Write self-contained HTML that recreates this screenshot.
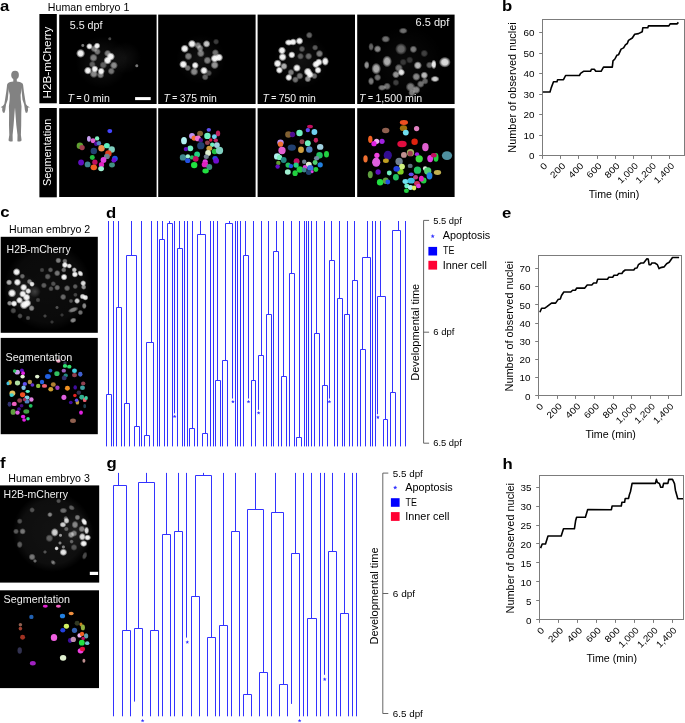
<!DOCTYPE html>
<html><head><meta charset="utf-8"><title>Figure</title>
<style>
html,body{margin:0;padding:0;background:#fff;}
body{width:685px;height:723px;overflow:hidden;}
svg{display:block;font-family:"Liberation Sans", sans-serif;will-change:transform;}
</style></head><body>
<svg width="685" height="723" viewBox="0 0 685 723">
<defs>
<filter id="bsm" x="-20%" y="-20%" width="140%" height="140%"><feGaussianBlur stdDeviation="0.72"/></filter>
<radialGradient id="soft"><stop offset="0" stop-color="#fff"/><stop offset="0.5" stop-color="#fff" stop-opacity="0.95"/><stop offset="0.78" stop-color="#fff" stop-opacity="0.45"/><stop offset="1" stop-color="#fff" stop-opacity="0"/></radialGradient>
<radialGradient id="discg"><stop offset="0" stop-color="#fff" stop-opacity="1"/><stop offset="0.8" stop-color="#fff" stop-opacity="0.8"/><stop offset="1" stop-color="#fff" stop-opacity="0"/></radialGradient>
<radialGradient id="rg"><stop offset="0" stop-color="#fff" stop-opacity="0.35"/><stop offset="0.6" stop-color="#fff" stop-opacity="0.15"/><stop offset="1" stop-color="#fff" stop-opacity="0"/></radialGradient>
<filter id="bbig" x="-50%" y="-50%" width="200%" height="200%"><feGaussianBlur stdDeviation="6"/></filter>
<filter id="bsm2" x="-20%" y="-20%" width="140%" height="140%"><feGaussianBlur stdDeviation="0.5"/></filter>
<filter id="bseg" x="-20%" y="-20%" width="140%" height="140%"><feGaussianBlur stdDeviation="0.3"/></filter>
</defs>
<rect width="685" height="723" fill="#fff"/>
<text transform="translate(-0.1,11) scale(1.1,1)" font-size="15.2" font-weight="bold">a</text>
<text transform="translate(502.0,11) scale(1.1,1)" font-size="15.2" font-weight="bold">b</text>
<text transform="translate(0.2,217.2) scale(1.1,1)" font-size="15.2" font-weight="bold">c</text>
<text transform="translate(106.0,217.6) scale(1.1,1)" font-size="15.2" font-weight="bold">d</text>
<text transform="translate(502.0,217.8) scale(1.1,1)" font-size="15.2" font-weight="bold">e</text>
<text transform="translate(0.1,468) scale(1.1,1)" font-size="15.2" font-weight="bold">f</text>
<text transform="translate(106.4,468.2) scale(1.1,1)" font-size="15.2" font-weight="bold">g</text>
<text transform="translate(502.5,469) scale(1.1,1)" font-size="15.2" font-weight="bold">h</text>
<g fill="#828282"><ellipse cx="15.05" cy="75.0" rx="3.85" ry="4.25"/><path d="M13.3 78.5 L13.3 81.4 C11 81.7 9 81.9 8.2 83 C7.4 84 7.5 86 8.2 88 L9.8 95 L9.6 100 L8.9 106.5 L9.1 113 L9.0 125 L9.3 135 L8.5 140.3 C8.8 141.6 11.2 141.8 12.7 141.3 L12.6 135 L13.6 125 L14.5 113 L15.0 107.6 L15.4 113 L16.3 125 L17.5 135 L17.4 141.3 C18.9 141.8 21.3 141.6 21.6 140.3 L20.9 135 L21.2 125 L21.3 113 L21.5 106.5 L20.8 100 L20.6 95 L21.8 88 C22.5 86 22.6 84 21.8 83 C21 81.9 19 81.7 16.8 81.4 L16.8 78.5 Z"/><path d="M8.2 83 C7.2 83.8 7.0 85 6.9 86.5 L6.3 91.5 L5.6 96 L5.0 100 L4.3 104 L3.0 105.8 L1.0 107.0 L0.9 107.6 L2.3 107.5 L2.2 110.5 L3.0 112.8 L4.5 112.8 L5.3 110 L5.6 107.4 L6.1 104.3 L7.7 99.7 L8.2 95 L8.8 89 L9.2 85 Z"/><path d="M22.0 83 C23.0 83.8 23.2 85 23.3 86.5 L23.9 91.5 L24.6 96 L25.2 100 L25.9 104 L27.2 105.8 L29.2 107.0 L29.9 107.6 L27.9 107.5 L28.0 110.5 L27.2 112.8 L25.7 112.8 L24.9 110 L24.6 107.4 L24.1 104.3 L22.5 99.7 L22.0 95 L21.4 89 L21.0 85 Z"/></g>
<text x="47.8" y="11.0" font-size="10.2" text-anchor="start" font-weight="normal" fill="#000" textLength="81.5" lengthAdjust="spacingAndGlyphs" >Human embryo 1</text>
<rect x="39.4" y="14" width="17.4" height="89.3" fill="#000"/>
<rect x="39.4" y="108" width="17.4" height="89.3" fill="#000"/>
<text transform="translate(51.4,62.6) rotate(-90)" font-size="10.4" fill="#fff" text-anchor="middle" textLength="72" lengthAdjust="spacingAndGlyphs">H2B-mCherry</text>
<text transform="translate(51.4,152.3) rotate(-90)" font-size="10.4" fill="#fff" text-anchor="middle" textLength="67.4" lengthAdjust="spacingAndGlyphs">Segmentation</text>
<clipPath id="c14"><rect x="59.2" y="14.6" width="97.4" height="89.4"/></clipPath>
<rect x="59.2" y="14.6" width="97.4" height="89.4" fill="#000"/>
<g clip-path="url(#c14)">
<circle cx="101.8" cy="62.2" r="26.3" fill="url(#rg)" opacity="0.22"/>
<circle cx="125.2" cy="57.8" r="16.1" fill="url(#rg)" opacity="0.16"/>
<g>
<ellipse cx="80.6" cy="53.4" rx="4.60" ry="4.60" fill="url(#soft)" opacity="0.97"/>
<ellipse cx="89.4" cy="46.4" rx="3.38" ry="3.38" fill="url(#soft)" opacity="0.97"/>
<ellipse cx="97.1" cy="45.8" rx="3.38" ry="3.38" fill="url(#soft)" opacity="0.97"/>
<ellipse cx="94.2" cy="48.7" rx="3.73" ry="3.73" fill="url(#soft)" opacity="0.48"/>
<ellipse cx="97.4" cy="51.7" rx="3.55" ry="3.55" fill="url(#soft)" opacity="0.44"/>
<ellipse cx="93.5" cy="57.8" rx="4.25" ry="4.25" fill="url(#soft)" opacity="0.48"/>
<ellipse cx="107.6" cy="53.4" rx="3.73" ry="3.73" fill="url(#soft)" opacity="0.48"/>
<ellipse cx="110.8" cy="56.6" rx="4.25" ry="4.25" fill="url(#soft)" opacity="0.97"/>
<ellipse cx="107.6" cy="60.4" rx="4.25" ry="4.25" fill="url(#soft)" opacity="0.97"/>
<ellipse cx="113.9" cy="65.4" rx="4.08" ry="4.08" fill="url(#soft)" opacity="0.53"/>
<ellipse cx="87.9" cy="70.6" rx="4.08" ry="4.08" fill="url(#soft)" opacity="0.97"/>
<ellipse cx="94.8" cy="69.0" rx="3.73" ry="3.73" fill="url(#soft)" opacity="0.97"/>
<ellipse cx="101.2" cy="71.2" rx="3.73" ry="3.73" fill="url(#soft)" opacity="0.97"/>
<ellipse cx="93.8" cy="73.9" rx="4.25" ry="4.25" fill="url(#soft)" opacity="0.53"/>
<ellipse cx="100.6" cy="75.0" rx="3.73" ry="3.73" fill="url(#soft)" opacity="0.48"/>
<ellipse cx="111.3" cy="71.2" rx="3.73" ry="3.73" fill="url(#soft)" opacity="0.44"/>
<ellipse cx="92.3" cy="64.4" rx="3.55" ry="3.55" fill="url(#soft)" opacity="0.34"/>
<ellipse cx="103.3" cy="65.1" rx="3.90" ry="3.90" fill="url(#soft)" opacity="0.34"/>
<ellipse cx="136.8" cy="65.8" rx="1.98" ry="1.98" fill="url(#soft)" opacity="0.48"/>
<ellipse cx="82.8" cy="45.4" rx="1.98" ry="1.98" fill="url(#soft)" opacity="0.48"/>
<ellipse cx="109.8" cy="38.8" rx="1.98" ry="1.98" fill="url(#soft)" opacity="0.29"/>
</g></g>
<clipPath id="c42"><rect x="158.2" y="14.6" width="97.4" height="89.4"/></clipPath>
<rect x="158.2" y="14.6" width="97.4" height="89.4" fill="#000"/>
<g clip-path="url(#c42)">
<circle cx="200.8" cy="59.3" r="24.8" fill="url(#rg)" opacity="0.19"/>
<g>
<ellipse cx="184.7" cy="48.7" rx="4.25" ry="4.25" fill="url(#soft)" opacity="0.97"/>
<ellipse cx="192.0" cy="43.9" rx="4.25" ry="4.25" fill="url(#soft)" opacity="0.97"/>
<ellipse cx="197.9" cy="45.4" rx="3.73" ry="3.73" fill="url(#soft)" opacity="0.48"/>
<ellipse cx="200.1" cy="48.3" rx="3.73" ry="3.73" fill="url(#soft)" opacity="0.48"/>
<ellipse cx="206.6" cy="43.9" rx="3.90" ry="3.90" fill="url(#soft)" opacity="0.78"/>
<ellipse cx="216.1" cy="41.7" rx="3.20" ry="3.20" fill="url(#soft)" opacity="0.24"/>
<ellipse cx="188.4" cy="56.3" rx="4.08" ry="4.08" fill="url(#soft)" opacity="0.48"/>
<ellipse cx="200.8" cy="53.4" rx="4.08" ry="4.08" fill="url(#soft)" opacity="0.48"/>
<ellipse cx="215.4" cy="52.7" rx="3.73" ry="3.73" fill="url(#soft)" opacity="0.44"/>
<ellipse cx="207.4" cy="60.4" rx="4.08" ry="4.08" fill="url(#soft)" opacity="0.48"/>
<ellipse cx="214.7" cy="58.5" rx="4.25" ry="4.25" fill="url(#soft)" opacity="0.97"/>
<ellipse cx="219.0" cy="57.5" rx="4.25" ry="4.25" fill="url(#soft)" opacity="0.97"/>
<ellipse cx="183.3" cy="64.4" rx="4.25" ry="4.25" fill="url(#soft)" opacity="0.97"/>
<ellipse cx="195.2" cy="65.4" rx="3.73" ry="3.73" fill="url(#soft)" opacity="0.97"/>
<ellipse cx="187.7" cy="68.0" rx="3.38" ry="3.38" fill="url(#soft)" opacity="0.44"/>
<ellipse cx="214.7" cy="65.1" rx="4.25" ry="4.25" fill="url(#soft)" opacity="0.58"/>
<ellipse cx="194.2" cy="71.7" rx="4.25" ry="4.25" fill="url(#soft)" opacity="0.53"/>
<ellipse cx="204.0" cy="70.6" rx="4.08" ry="4.08" fill="url(#soft)" opacity="0.97"/>
<ellipse cx="205.2" cy="77.1" rx="3.55" ry="3.55" fill="url(#soft)" opacity="0.39"/>
<ellipse cx="208.8" cy="73.1" rx="3.38" ry="3.38" fill="url(#soft)" opacity="0.29"/>
</g></g>
<clipPath id="c68"><rect x="257.6" y="14.6" width="97.4" height="89.4"/></clipPath>
<rect x="257.6" y="14.6" width="97.4" height="89.4" fill="#000"/>
<g clip-path="url(#c68)">
<circle cx="301.3" cy="60.7" r="27.7" fill="url(#rg)" opacity="0.19"/>
<g>
<ellipse cx="288.8" cy="42.5" rx="4.25" ry="3.38" fill="url(#soft)" opacity="0.97"/>
<ellipse cx="293.2" cy="42.0" rx="3.73" ry="3.73" fill="url(#soft)" opacity="0.97"/>
<ellipse cx="299.5" cy="41.0" rx="3.90" ry="3.90" fill="url(#soft)" opacity="0.97"/>
<ellipse cx="309.3" cy="35.2" rx="3.55" ry="3.55" fill="url(#soft)" opacity="0.39"/>
<ellipse cx="282.0" cy="50.5" rx="4.08" ry="4.08" fill="url(#soft)" opacity="0.97"/>
<ellipse cx="282.6" cy="57.1" rx="4.25" ry="4.25" fill="url(#soft)" opacity="0.97"/>
<ellipse cx="291.8" cy="54.9" rx="3.73" ry="3.73" fill="url(#soft)" opacity="0.97"/>
<ellipse cx="302.0" cy="49.0" rx="3.38" ry="3.38" fill="url(#soft)" opacity="0.34"/>
<ellipse cx="300.5" cy="56.3" rx="3.55" ry="3.55" fill="url(#soft)" opacity="0.34"/>
<ellipse cx="308.6" cy="56.3" rx="3.73" ry="3.73" fill="url(#soft)" opacity="0.39"/>
<ellipse cx="315.1" cy="47.6" rx="3.20" ry="3.20" fill="url(#soft)" opacity="0.34"/>
<ellipse cx="319.5" cy="53.7" rx="3.90" ry="3.90" fill="url(#soft)" opacity="0.48"/>
<ellipse cx="277.6" cy="63.6" rx="4.25" ry="4.25" fill="url(#soft)" opacity="0.97"/>
<ellipse cx="284.0" cy="66.3" rx="3.73" ry="3.73" fill="url(#soft)" opacity="0.68"/>
<ellipse cx="279.4" cy="70.2" rx="3.73" ry="3.73" fill="url(#soft)" opacity="0.97"/>
<ellipse cx="296.9" cy="68.0" rx="4.08" ry="4.08" fill="url(#soft)" opacity="0.97"/>
<ellipse cx="291.0" cy="72.4" rx="3.55" ry="3.55" fill="url(#soft)" opacity="0.48"/>
<ellipse cx="288.8" cy="77.5" rx="3.73" ry="3.73" fill="url(#soft)" opacity="0.97"/>
<ellipse cx="295.4" cy="79.7" rx="3.55" ry="3.55" fill="url(#soft)" opacity="0.44"/>
<ellipse cx="299.8" cy="76.0" rx="3.73" ry="3.73" fill="url(#soft)" opacity="0.44"/>
<ellipse cx="307.8" cy="71.7" rx="4.25" ry="4.25" fill="url(#soft)" opacity="0.97"/>
<ellipse cx="310.0" cy="74.6" rx="3.90" ry="3.90" fill="url(#soft)" opacity="0.97"/>
<ellipse cx="315.9" cy="64.4" rx="3.90" ry="3.90" fill="url(#soft)" opacity="0.97"/>
<ellipse cx="318.8" cy="62.2" rx="3.90" ry="3.90" fill="url(#soft)" opacity="0.97"/>
<ellipse cx="325.3" cy="61.4" rx="3.73" ry="4.60" fill="url(#soft)" opacity="0.97"/>
<ellipse cx="318.0" cy="70.2" rx="3.73" ry="3.73" fill="url(#soft)" opacity="0.97"/>
<ellipse cx="314.4" cy="76.0" rx="3.38" ry="3.38" fill="url(#soft)" opacity="0.44"/>
<ellipse cx="307.8" cy="79.0" rx="3.55" ry="3.55" fill="url(#soft)" opacity="0.58"/>
</g></g>
<clipPath id="c102"><rect x="357.2" y="14.6" width="97.4" height="89.4"/></clipPath>
<rect x="357.2" y="14.6" width="97.4" height="89.4" fill="#000"/>
<g clip-path="url(#c102)">
<circle cx="406.1" cy="63.6" r="38.0" fill="url(#rg)" opacity="0.11"/>
<g>
<ellipse cx="403.2" cy="30.8" rx="4.60" ry="3.20" fill="url(#soft)" opacity="0.44"/>
<ellipse cx="385.7" cy="39.1" rx="4.60" ry="3.73" fill="url(#soft)" opacity="0.44"/>
<ellipse cx="371.1" cy="46.8" rx="2.85" ry="4.25" fill="url(#soft)" opacity="0.39"/>
<ellipse cx="377.6" cy="49.0" rx="3.90" ry="3.90" fill="url(#soft)" opacity="0.53"/>
<ellipse cx="401.0" cy="49.0" rx="6.01" ry="6.01" fill="url(#soft)" opacity="0.39"/>
<ellipse cx="413.4" cy="49.3" rx="3.90" ry="3.90" fill="url(#soft)" opacity="0.48"/>
<ellipse cx="424.3" cy="53.4" rx="3.90" ry="3.90" fill="url(#soft)" opacity="0.24"/>
<ellipse cx="387.1" cy="61.4" rx="4.95" ry="6.01" fill="url(#soft)" opacity="0.68"/>
<ellipse cx="366.7" cy="65.1" rx="2.85" ry="4.25" fill="url(#soft)" opacity="0.58"/>
<ellipse cx="376.2" cy="68.7" rx="4.95" ry="6.01" fill="url(#soft)" opacity="0.68"/>
<ellipse cx="403.2" cy="62.2" rx="3.73" ry="3.73" fill="url(#soft)" opacity="0.19"/>
<ellipse cx="409.7" cy="60.0" rx="3.73" ry="3.73" fill="url(#soft)" opacity="0.19"/>
<ellipse cx="417.8" cy="65.4" rx="4.25" ry="4.25" fill="url(#soft)" opacity="0.73"/>
<ellipse cx="429.5" cy="65.1" rx="3.73" ry="3.73" fill="url(#soft)" opacity="0.39"/>
<ellipse cx="433.8" cy="64.4" rx="2.85" ry="4.95" fill="url(#soft)" opacity="0.92"/>
<ellipse cx="444.8" cy="62.2" rx="6.01" ry="5.48" fill="url(#soft)" opacity="0.87"/>
<ellipse cx="398.8" cy="68.0" rx="4.25" ry="4.25" fill="url(#soft)" opacity="0.44"/>
<ellipse cx="401.4" cy="72.4" rx="3.73" ry="3.73" fill="url(#soft)" opacity="0.92"/>
<ellipse cx="395.9" cy="74.6" rx="3.90" ry="3.90" fill="url(#soft)" opacity="0.58"/>
<ellipse cx="416.3" cy="76.8" rx="4.25" ry="4.25" fill="url(#soft)" opacity="0.53"/>
<ellipse cx="424.3" cy="75.3" rx="3.90" ry="3.90" fill="url(#soft)" opacity="0.73"/>
<ellipse cx="435.0" cy="79.0" rx="4.60" ry="3.20" fill="url(#soft)" opacity="0.82"/>
<ellipse cx="377.6" cy="77.5" rx="3.73" ry="3.73" fill="url(#soft)" opacity="0.44"/>
<ellipse cx="371.1" cy="81.2" rx="3.20" ry="4.25" fill="url(#soft)" opacity="0.48"/>
<ellipse cx="382.0" cy="87.7" rx="4.25" ry="3.20" fill="url(#soft)" opacity="0.48"/>
<ellipse cx="387.1" cy="86.3" rx="3.90" ry="3.90" fill="url(#soft)" opacity="0.44"/>
<ellipse cx="395.9" cy="82.6" rx="3.55" ry="3.55" fill="url(#soft)" opacity="0.24"/>
<ellipse cx="410.5" cy="87.0" rx="4.95" ry="4.95" fill="url(#soft)" opacity="0.48"/>
<ellipse cx="416.3" cy="89.9" rx="4.25" ry="4.25" fill="url(#soft)" opacity="0.53"/>
<ellipse cx="420.7" cy="84.1" rx="3.90" ry="3.90" fill="url(#soft)" opacity="0.44"/>
<ellipse cx="425.1" cy="81.2" rx="3.55" ry="3.55" fill="url(#soft)" opacity="0.39"/>
<ellipse cx="411.9" cy="92.8" rx="3.73" ry="3.73" fill="url(#soft)" opacity="0.48"/>
</g></g>
<rect x="59.2" y="108.2" width="97.4" height="88.8" fill="#000"/>
<g filter="url(#bseg)">
<ellipse cx="109.8" cy="131.1" rx="2.48" ry="2.04" fill="#4444ff"/>
<ellipse cx="88.9" cy="138.8" rx="1.90" ry="2.92" fill="#c8a0f0"/>
<ellipse cx="93.0" cy="140.7" rx="2.48" ry="2.48" fill="#e060d0"/>
<ellipse cx="97.1" cy="138.4" rx="2.19" ry="2.19" fill="#80f0c0"/>
<ellipse cx="96.2" cy="143.7" rx="2.19" ry="2.19" fill="#5010a0"/>
<ellipse cx="98.9" cy="143.2" rx="2.19" ry="2.19" fill="#5080c0"/>
<ellipse cx="79.9" cy="145.7" rx="3.21" ry="3.21" fill="#60a030"/>
<ellipse cx="82.1" cy="147.6" rx="2.63" ry="2.63" fill="#a04050"/>
<ellipse cx="101.5" cy="148.3" rx="3.21" ry="3.21" fill="#f09050"/>
<ellipse cx="106.9" cy="145.7" rx="2.92" ry="2.63" fill="#60f0c0"/>
<ellipse cx="111.7" cy="149.5" rx="3.21" ry="3.21" fill="#80d0c0"/>
<ellipse cx="93.8" cy="151.0" rx="3.21" ry="3.21" fill="#204070"/>
<ellipse cx="108.4" cy="153.4" rx="3.21" ry="3.21" fill="#e04020"/>
<ellipse cx="92.3" cy="157.4" rx="2.48" ry="2.48" fill="#20c040"/>
<ellipse cx="106.9" cy="156.4" rx="2.92" ry="2.63" fill="#708090"/>
<ellipse cx="103.5" cy="160.0" rx="2.92" ry="2.92" fill="#e040e0"/>
<ellipse cx="114.9" cy="158.6" rx="2.92" ry="2.92" fill="#2050e0"/>
<ellipse cx="113.9" cy="160.3" rx="2.48" ry="2.48" fill="#7010d0"/>
<ellipse cx="81.1" cy="162.5" rx="2.92" ry="2.92" fill="#6010c0"/>
<ellipse cx="87.6" cy="164.4" rx="2.92" ry="2.92" fill="#408890"/>
<ellipse cx="94.9" cy="162.2" rx="2.63" ry="2.63" fill="#c01060"/>
<ellipse cx="101.5" cy="164.7" rx="2.63" ry="2.63" fill="#e020c0"/>
<ellipse cx="93.8" cy="167.3" rx="3.21" ry="2.92" fill="#f06020"/>
<ellipse cx="101.1" cy="168.8" rx="2.92" ry="2.48" fill="#a0f0d0"/>
<ellipse cx="112.0" cy="165.1" rx="2.92" ry="2.48" fill="#409080"/>
</g>
<rect x="158.2" y="108.2" width="97.4" height="88.8" fill="#000"/>
<g filter="url(#bseg)">
<ellipse cx="208.8" cy="129.8" rx="2.19" ry="1.90" fill="#6050f0"/>
<ellipse cx="200.1" cy="133.4" rx="2.92" ry="2.63" fill="#806030"/>
<ellipse cx="218.0" cy="133.4" rx="2.19" ry="2.92" fill="#c02060"/>
<ellipse cx="192.0" cy="135.9" rx="2.92" ry="2.92" fill="#c090f0"/>
<ellipse cx="194.2" cy="138.1" rx="2.63" ry="2.63" fill="#f07030"/>
<ellipse cx="197.9" cy="138.4" rx="2.92" ry="2.92" fill="#f070d0"/>
<ellipse cx="200.8" cy="140.3" rx="2.19" ry="2.19" fill="#501090"/>
<ellipse cx="207.4" cy="135.9" rx="3.21" ry="3.21" fill="#70f0c0"/>
<ellipse cx="214.4" cy="136.7" rx="2.48" ry="2.48" fill="#70d0f0"/>
<ellipse cx="210.7" cy="139.9" rx="1.75" ry="1.75" fill="#e01040"/>
<ellipse cx="215.8" cy="140.3" rx="2.19" ry="1.90" fill="#c02060"/>
<ellipse cx="184.0" cy="140.7" rx="2.92" ry="3.65" fill="#b0f0f0"/>
<ellipse cx="200.8" cy="145.7" rx="3.65" ry="3.65" fill="#204070"/>
<ellipse cx="207.4" cy="142.8" rx="2.48" ry="2.19" fill="#904050"/>
<ellipse cx="212.2" cy="144.7" rx="2.19" ry="2.19" fill="#70f0c0"/>
<ellipse cx="216.9" cy="145.1" rx="2.92" ry="2.92" fill="#a0d0e0"/>
<ellipse cx="209.3" cy="148.3" rx="2.92" ry="2.63" fill="#d0a040"/>
<ellipse cx="190.3" cy="148.3" rx="2.92" ry="2.92" fill="#70f0c0"/>
<ellipse cx="185.9" cy="149.1" rx="2.19" ry="2.19" fill="#6010c0"/>
<ellipse cx="214.7" cy="151.5" rx="2.92" ry="2.63" fill="#20c040"/>
<ellipse cx="219.5" cy="150.5" rx="3.65" ry="3.65" fill="#80d0c0"/>
<ellipse cx="208.1" cy="153.0" rx="2.92" ry="2.92" fill="#e0f0d0"/>
<ellipse cx="197.1" cy="154.5" rx="2.92" ry="2.92" fill="#20d080"/>
<ellipse cx="183.0" cy="157.4" rx="3.21" ry="3.21" fill="#408890"/>
<ellipse cx="187.9" cy="156.4" rx="2.19" ry="2.19" fill="#a0f0d0"/>
<ellipse cx="192.0" cy="157.4" rx="2.19" ry="2.19" fill="#20c060"/>
<ellipse cx="195.7" cy="158.8" rx="2.92" ry="2.92" fill="#c01060"/>
<ellipse cx="206.3" cy="156.8" rx="2.63" ry="2.19" fill="#708090"/>
<ellipse cx="187.7" cy="160.7" rx="2.63" ry="2.34" fill="#2050e0"/>
<ellipse cx="215.1" cy="158.3" rx="2.63" ry="2.34" fill="#2050e0"/>
<ellipse cx="216.1" cy="160.7" rx="2.92" ry="2.92" fill="#7010d0"/>
<ellipse cx="205.2" cy="161.5" rx="2.63" ry="2.19" fill="#e040e0"/>
<ellipse cx="204.9" cy="164.4" rx="3.21" ry="2.92" fill="#e020c0"/>
<ellipse cx="194.2" cy="165.1" rx="3.21" ry="3.21" fill="#20e040"/>
<ellipse cx="209.3" cy="167.0" rx="2.92" ry="2.92" fill="#409080"/>
<ellipse cx="205.6" cy="171.0" rx="3.21" ry="2.48" fill="#20e040"/>
</g>
<rect x="257.6" y="108.2" width="97.4" height="88.8" fill="#000"/>
<g filter="url(#bseg)">
<ellipse cx="310.0" cy="126.4" rx="2.92" ry="1.75" fill="#c01060"/>
<ellipse cx="307.8" cy="130.1" rx="2.19" ry="2.19" fill="#6050f0"/>
<ellipse cx="314.4" cy="132.0" rx="2.92" ry="2.92" fill="#70d0f0"/>
<ellipse cx="288.4" cy="134.5" rx="3.21" ry="3.21" fill="#806030"/>
<ellipse cx="292.5" cy="134.5" rx="2.63" ry="2.63" fill="#501090"/>
<ellipse cx="299.5" cy="133.0" rx="3.21" ry="3.21" fill="#70f0c0"/>
<ellipse cx="315.9" cy="140.3" rx="2.19" ry="2.48" fill="#c02060"/>
<ellipse cx="302.0" cy="141.8" rx="2.48" ry="2.48" fill="#904050"/>
<ellipse cx="307.8" cy="143.2" rx="2.92" ry="2.92" fill="#70f0c0"/>
<ellipse cx="280.5" cy="142.5" rx="3.21" ry="2.92" fill="#c090f0"/>
<ellipse cx="280.5" cy="144.2" rx="2.63" ry="2.63" fill="#f07030"/>
<ellipse cx="291.8" cy="147.6" rx="4.09" ry="3.21" fill="#204070"/>
<ellipse cx="301.0" cy="149.8" rx="2.92" ry="3.21" fill="#d0a040"/>
<ellipse cx="309.3" cy="149.5" rx="3.21" ry="3.21" fill="#5080c0"/>
<ellipse cx="320.2" cy="146.9" rx="3.21" ry="2.92" fill="#a0d0e0"/>
<ellipse cx="282.0" cy="150.5" rx="3.65" ry="3.65" fill="#e060d0"/>
<ellipse cx="326.5" cy="154.2" rx="2.48" ry="3.21" fill="#20d040"/>
<ellipse cx="319.5" cy="155.3" rx="3.21" ry="3.21" fill="#20c060"/>
<ellipse cx="277.2" cy="156.4" rx="3.21" ry="3.21" fill="#b0f0f0"/>
<ellipse cx="279.6" cy="157.4" rx="2.63" ry="2.63" fill="#80f0c0"/>
<ellipse cx="283.7" cy="160.0" rx="2.92" ry="2.92" fill="#208880"/>
<ellipse cx="316.6" cy="158.3" rx="2.63" ry="2.19" fill="#708ca0"/>
<ellipse cx="296.6" cy="161.2" rx="2.92" ry="2.92" fill="#c01060"/>
<ellipse cx="304.2" cy="161.8" rx="2.19" ry="2.19" fill="#708090"/>
<ellipse cx="278.3" cy="162.9" rx="2.19" ry="2.19" fill="#60a030"/>
<ellipse cx="277.6" cy="166.6" rx="2.19" ry="2.19" fill="#6010c0"/>
<ellipse cx="288.1" cy="165.1" rx="2.63" ry="2.63" fill="#20c060"/>
<ellipse cx="291.0" cy="166.1" rx="2.19" ry="2.19" fill="#2050e0"/>
<ellipse cx="296.1" cy="165.1" rx="2.63" ry="2.63" fill="#20d080"/>
<ellipse cx="308.8" cy="164.4" rx="2.92" ry="2.63" fill="#e0f0d0"/>
<ellipse cx="315.1" cy="162.6" rx="2.48" ry="2.48" fill="#50d070"/>
<ellipse cx="320.2" cy="164.8" rx="2.63" ry="2.63" fill="#2080e0"/>
<ellipse cx="304.9" cy="167.3" rx="2.19" ry="2.19" fill="#e040e0"/>
<ellipse cx="299.8" cy="169.5" rx="3.21" ry="3.21" fill="#20d040"/>
<ellipse cx="304.2" cy="169.9" rx="2.48" ry="2.48" fill="#408890"/>
<ellipse cx="310.3" cy="168.0" rx="3.21" ry="2.92" fill="#4070e0"/>
<ellipse cx="315.9" cy="169.5" rx="2.48" ry="2.48" fill="#20d040"/>
<ellipse cx="287.8" cy="172.0" rx="2.92" ry="2.63" fill="#a0f0d0"/>
<ellipse cx="295.1" cy="173.2" rx="2.63" ry="2.92" fill="#20d040"/>
<ellipse cx="308.8" cy="172.4" rx="2.92" ry="2.48" fill="#204070"/>
<ellipse cx="312.2" cy="171.7" rx="1.46" ry="1.46" fill="#e040e0"/>
</g>
<rect x="357.2" y="108.2" width="97.4" height="88.8" fill="#000"/>
<g filter="url(#bseg)">
<ellipse cx="403.9" cy="122.4" rx="4.09" ry="2.48" fill="#f05020"/>
<ellipse cx="403.5" cy="128.2" rx="3.65" ry="2.92" fill="#a07010"/>
<ellipse cx="405.8" cy="132.6" rx="2.92" ry="2.92" fill="#70e0f0"/>
<ellipse cx="416.6" cy="128.6" rx="2.63" ry="2.63" fill="#e080c0"/>
<ellipse cx="385.7" cy="130.5" rx="3.65" ry="2.63" fill="#906050"/>
<ellipse cx="370.3" cy="139.3" rx="2.19" ry="3.65" fill="#f06020"/>
<ellipse cx="376.6" cy="141.3" rx="2.63" ry="2.63" fill="#f0b0f0"/>
<ellipse cx="374.0" cy="143.7" rx="2.63" ry="2.63" fill="#e020e0"/>
<ellipse cx="382.0" cy="141.3" rx="2.63" ry="2.63" fill="#a020e0"/>
<ellipse cx="402.0" cy="144.0" rx="4.67" ry="3.21" fill="#e01040"/>
<ellipse cx="414.6" cy="141.8" rx="3.21" ry="3.21" fill="#e02010"/>
<ellipse cx="425.4" cy="147.2" rx="3.21" ry="4.09" fill="#e060d0"/>
<ellipse cx="376.9" cy="155.3" rx="2.63" ry="2.63" fill="#f040e0"/>
<ellipse cx="387.8" cy="155.3" rx="4.09" ry="4.67" fill="#301090"/>
<ellipse cx="376.2" cy="162.2" rx="4.09" ry="4.67" fill="#e060e0"/>
<ellipse cx="365.5" cy="158.8" rx="2.19" ry="3.65" fill="#f07030"/>
<ellipse cx="385.9" cy="160.7" rx="2.92" ry="2.19" fill="#c0a020"/>
<ellipse cx="403.9" cy="154.9" rx="2.92" ry="2.92" fill="#c09090"/>
<ellipse cx="410.5" cy="152.7" rx="3.65" ry="3.65" fill="#a0b060"/>
<ellipse cx="410.2" cy="153.4" rx="2.63" ry="2.63" fill="#a04050"/>
<ellipse cx="417.0" cy="154.2" rx="2.19" ry="1.90" fill="#a020e0"/>
<ellipse cx="419.2" cy="158.8" rx="3.65" ry="3.65" fill="#40e040"/>
<ellipse cx="430.2" cy="158.6" rx="2.92" ry="3.65" fill="#e040e0"/>
<ellipse cx="436.0" cy="157.4" rx="2.48" ry="4.38" fill="#20d040"/>
<ellipse cx="433.8" cy="155.3" rx="2.92" ry="2.19" fill="#c01060"/>
<ellipse cx="447.0" cy="155.6" rx="5.11" ry="4.38" fill="#5090a0"/>
<ellipse cx="399.1" cy="161.5" rx="3.65" ry="3.65" fill="#708090"/>
<ellipse cx="400.5" cy="171.7" rx="3.21" ry="2.92" fill="#80d020"/>
<ellipse cx="402.0" cy="166.6" rx="2.92" ry="2.92" fill="#d0f080"/>
<ellipse cx="396.6" cy="168.8" rx="3.21" ry="2.92" fill="#2040e0"/>
<ellipse cx="410.2" cy="165.9" rx="2.48" ry="2.19" fill="#607080"/>
<ellipse cx="417.5" cy="170.2" rx="3.65" ry="3.65" fill="#20c060"/>
<ellipse cx="425.1" cy="168.5" rx="2.19" ry="2.19" fill="#e0f0e0"/>
<ellipse cx="427.7" cy="171.0" rx="3.65" ry="3.65" fill="#50d070"/>
<ellipse cx="429.5" cy="175.8" rx="2.92" ry="3.65" fill="#2080e0"/>
<ellipse cx="437.5" cy="172.4" rx="3.65" ry="2.48" fill="#c0b050"/>
<ellipse cx="370.3" cy="174.6" rx="2.48" ry="3.65" fill="#60a040"/>
<ellipse cx="378.1" cy="172.0" rx="2.63" ry="2.63" fill="#6010c0"/>
<ellipse cx="389.3" cy="172.9" rx="2.48" ry="2.48" fill="#70f0c0"/>
<ellipse cx="395.9" cy="177.2" rx="2.92" ry="3.21" fill="#20c060"/>
<ellipse cx="411.2" cy="174.3" rx="2.48" ry="1.90" fill="#6050f0"/>
<ellipse cx="415.6" cy="177.2" rx="2.48" ry="2.19" fill="#c04080"/>
<ellipse cx="423.6" cy="180.5" rx="2.92" ry="2.92" fill="#20d040"/>
<ellipse cx="421.4" cy="178.7" rx="2.48" ry="2.92" fill="#e020c0"/>
<ellipse cx="380.1" cy="182.2" rx="3.21" ry="3.21" fill="#20e040"/>
<ellipse cx="385.7" cy="180.7" rx="2.92" ry="3.21" fill="#60a040"/>
<ellipse cx="387.8" cy="181.9" rx="2.48" ry="2.48" fill="#2050e0"/>
<ellipse cx="405.4" cy="181.6" rx="2.92" ry="2.48" fill="#70e0f0"/>
<ellipse cx="411.2" cy="180.7" rx="3.65" ry="2.92" fill="#40c0e0"/>
<ellipse cx="417.0" cy="183.4" rx="2.92" ry="2.48" fill="#d03060"/>
<ellipse cx="418.5" cy="186.0" rx="2.48" ry="2.19" fill="#e040e0"/>
<ellipse cx="406.8" cy="186.0" rx="2.63" ry="2.19" fill="#70f0d0"/>
<ellipse cx="410.5" cy="187.5" rx="2.63" ry="2.48" fill="#b0f0f0"/>
<ellipse cx="414.1" cy="188.0" rx="2.19" ry="2.48" fill="#e0f060"/>
<ellipse cx="406.4" cy="190.7" rx="2.48" ry="2.19" fill="#20d040"/>
</g>
<text x="69.7" y="28.6" font-size="10.5" text-anchor="start" font-weight="normal" fill="#f0f0f0" textLength="32.8" lengthAdjust="spacingAndGlyphs" >5.5 dpf</text>
<text x="415.6" y="25.7" font-size="10.5" text-anchor="start" font-weight="normal" fill="#f0f0f0" textLength="33.6" lengthAdjust="spacingAndGlyphs" >6.5 dpf</text>
<text x="67.5" y="101.6" font-size="10.6" fill="#f0f0f0" textLength="42.3" lengthAdjust="spacingAndGlyphs"><tspan font-style="italic">T</tspan><tspan font-size="8.6" font-weight="bold" baseline-shift="0.8"> = </tspan>0 min</text>
<text x="163.6" y="101.6" font-size="10.6" fill="#f0f0f0" textLength="53.3" lengthAdjust="spacingAndGlyphs"><tspan font-style="italic">T</tspan><tspan font-size="8.6" font-weight="bold" baseline-shift="0.8"> = </tspan>375 min</text>
<text x="262.6" y="101.6" font-size="10.6" fill="#f0f0f0" textLength="53.3" lengthAdjust="spacingAndGlyphs"><tspan font-style="italic">T</tspan><tspan font-size="8.6" font-weight="bold" baseline-shift="0.8"> = </tspan>750 min</text>
<text x="359.1" y="101.6" font-size="10.6" fill="#f0f0f0" textLength="63.1" lengthAdjust="spacingAndGlyphs"><tspan font-style="italic">T</tspan><tspan font-size="8.6" font-weight="bold" baseline-shift="0.8"> = </tspan>1,500 min</text>
<rect x="135.1" y="97.1" width="15.6" height="3" fill="#fff"/>
<text x="9" y="233.0" font-size="11.0" text-anchor="start" font-weight="normal" fill="#000" textLength="81.2" lengthAdjust="spacingAndGlyphs" >Human embryo 2</text>
<clipPath id="c317"><rect x="0.7" y="236.8" width="97.1" height="96.0"/></clipPath>
<rect x="0.7" y="236.8" width="97.1" height="96.0" fill="#000"/>
<g clip-path="url(#c317)">
<circle cx="48" cy="287" r="44" fill="url(#discg)" opacity="0.05"/>
<circle cx="34.9" cy="291.6" r="6" fill="url(#rg)" opacity="0.55"/>
<circle cx="22" cy="292" r="18" fill="url(#rg)" opacity="0.26"/>
<g>
<ellipse cx="16.6" cy="272" rx="4.00" ry="4.00" fill="url(#soft)" opacity="0.97"/>
<ellipse cx="17.4" cy="282.3" rx="3.80" ry="3.80" fill="url(#soft)" opacity="0.97"/>
<ellipse cx="9.1" cy="282.4" rx="3.20" ry="3.20" fill="url(#soft)" opacity="0.68"/>
<ellipse cx="23.7" cy="287.4" rx="3.80" ry="3.80" fill="url(#soft)" opacity="0.97"/>
<ellipse cx="12" cy="293.2" rx="4.40" ry="4.40" fill="url(#soft)" opacity="0.97"/>
<ellipse cx="22.8" cy="294" rx="3.80" ry="3.80" fill="url(#soft)" opacity="0.97"/>
<ellipse cx="28.2" cy="291.1" rx="3.20" ry="3.20" fill="url(#soft)" opacity="0.92"/>
<ellipse cx="32" cy="284.1" rx="2.90" ry="2.90" fill="url(#soft)" opacity="0.92"/>
<ellipse cx="29.5" cy="281.6" rx="2.90" ry="2.90" fill="url(#soft)" opacity="0.48"/>
<ellipse cx="19.5" cy="300.3" rx="3.60" ry="3.60" fill="url(#soft)" opacity="0.97"/>
<ellipse cx="14.1" cy="303.6" rx="3.40" ry="3.40" fill="url(#soft)" opacity="0.97"/>
<ellipse cx="9.6" cy="303.2" rx="2.80" ry="2.80" fill="url(#soft)" opacity="0.58"/>
<ellipse cx="26.6" cy="297.4" rx="4.00" ry="4.00" fill="url(#soft)" opacity="0.97"/>
<ellipse cx="24.1" cy="304.9" rx="4.60" ry="4.60" fill="url(#soft)" opacity="0.97"/>
<ellipse cx="27.4" cy="303.2" rx="4.00" ry="4.00" fill="url(#soft)" opacity="0.97"/>
<ellipse cx="31.6" cy="308.2" rx="3.20" ry="3.20" fill="url(#soft)" opacity="0.53"/>
<ellipse cx="13.3" cy="310.7" rx="3.20" ry="3.20" fill="url(#soft)" opacity="0.29"/>
<ellipse cx="22.4" cy="276.2" rx="2.80" ry="2.80" fill="url(#soft)" opacity="0.39"/>
<ellipse cx="20" cy="316" rx="2.90" ry="2.90" fill="url(#soft)" opacity="0.29"/>
<ellipse cx="28" cy="318" rx="2.60" ry="2.60" fill="url(#soft)" opacity="0.29"/>
<ellipse cx="38" cy="300" rx="2.60" ry="2.60" fill="url(#soft)" opacity="0.24"/>
<ellipse cx="42" cy="270" rx="2.60" ry="2.60" fill="url(#soft)" opacity="0.24"/>
<ellipse cx="58.3" cy="260.5" rx="3.10" ry="3.10" fill="url(#soft)" opacity="0.48"/>
<ellipse cx="64.9" cy="261.1" rx="2.80" ry="2.80" fill="url(#soft)" opacity="0.44"/>
<ellipse cx="64.9" cy="265" rx="3.30" ry="3.30" fill="url(#soft)" opacity="0.97"/>
<ellipse cx="69.3" cy="266" rx="2.80" ry="2.80" fill="url(#soft)" opacity="0.92"/>
<ellipse cx="74.3" cy="269.9" rx="2.80" ry="2.80" fill="url(#soft)" opacity="0.78"/>
<ellipse cx="74.9" cy="274.4" rx="3.30" ry="3.30" fill="url(#soft)" opacity="0.97"/>
<ellipse cx="80.4" cy="273.5" rx="2.70" ry="3.50" fill="url(#soft)" opacity="0.92" transform="rotate(-40 80.4 273.5)"/>
<ellipse cx="63.8" cy="269.9" rx="2.80" ry="2.80" fill="url(#soft)" opacity="0.44"/>
<ellipse cx="50.5" cy="269.9" rx="2.80" ry="2.80" fill="url(#soft)" opacity="0.34"/>
<ellipse cx="57.2" cy="273.2" rx="3.30" ry="3.30" fill="url(#soft)" opacity="0.44"/>
<ellipse cx="47.7" cy="276.6" rx="3.30" ry="3.30" fill="url(#soft)" opacity="0.34"/>
<ellipse cx="64.1" cy="277.1" rx="3.50" ry="3.50" fill="url(#soft)" opacity="0.97"/>
<ellipse cx="83.2" cy="283.2" rx="3.10" ry="3.10" fill="url(#soft)" opacity="0.87"/>
<ellipse cx="83.7" cy="287.1" rx="2.80" ry="2.80" fill="url(#soft)" opacity="0.58"/>
<ellipse cx="53.3" cy="283.8" rx="2.80" ry="2.80" fill="url(#soft)" opacity="0.29"/>
<ellipse cx="43.9" cy="285.4" rx="3.10" ry="3.10" fill="url(#soft)" opacity="0.34"/>
<ellipse cx="51" cy="288.7" rx="2.80" ry="2.80" fill="url(#soft)" opacity="0.29"/>
<ellipse cx="57.2" cy="287.6" rx="3.10" ry="3.10" fill="url(#soft)" opacity="0.39"/>
<ellipse cx="67.1" cy="288.2" rx="3.30" ry="3.30" fill="url(#soft)" opacity="0.39"/>
<ellipse cx="75.2" cy="286.5" rx="2.80" ry="2.80" fill="url(#soft)" opacity="0.34"/>
<ellipse cx="63.2" cy="297" rx="3.30" ry="3.30" fill="url(#soft)" opacity="0.39"/>
<ellipse cx="82.6" cy="296.5" rx="3.10" ry="3.10" fill="url(#soft)" opacity="0.87"/>
<ellipse cx="85.4" cy="297.6" rx="3.10" ry="3.10" fill="url(#soft)" opacity="0.92"/>
<ellipse cx="77.1" cy="300.9" rx="3.10" ry="3.10" fill="url(#soft)" opacity="0.82"/>
<ellipse cx="84.3" cy="305.9" rx="2.50" ry="3.30" fill="url(#soft)" opacity="0.53"/>
<ellipse cx="73.2" cy="309.8" rx="5.60" ry="2.60" fill="url(#soft)" opacity="0.48" transform="rotate(-20 73.2 309.8)"/>
<ellipse cx="80.4" cy="312.5" rx="2.80" ry="2.80" fill="url(#soft)" opacity="0.44"/>
<ellipse cx="73.2" cy="320.3" rx="3.50" ry="2.70" fill="url(#soft)" opacity="0.53" transform="rotate(-20 73.2 320.3)"/>
<ellipse cx="75.4" cy="294.8" rx="2.40" ry="2.40" fill="url(#soft)" opacity="0.24"/>
<ellipse cx="71" cy="301" rx="2.40" ry="2.40" fill="url(#soft)" opacity="0.29"/>
<ellipse cx="57" cy="307.5" rx="2.00" ry="2.00" fill="url(#soft)" opacity="0.29"/>
<ellipse cx="45" cy="316" rx="2.10" ry="2.10" fill="url(#soft)" opacity="0.24"/>
<ellipse cx="52" cy="322" rx="2.10" ry="2.10" fill="url(#soft)" opacity="0.19"/>
<ellipse cx="62" cy="315" rx="2.10" ry="2.10" fill="url(#soft)" opacity="0.19"/>
</g></g>
<text x="6.6" y="253.3" font-size="10.3" text-anchor="start" font-weight="normal" fill="#eeeeee" textLength="64.2" lengthAdjust="spacingAndGlyphs" >H2B-mCherry</text>
<rect x="0.7" y="337.9" width="97.1" height="96.3" fill="#000"/>
<g filter="url(#bseg)">
<ellipse cx="58.4" cy="361.1" rx="2.19" ry="1.75" fill="#f0a0c0"/>
<ellipse cx="65.0" cy="363.0" rx="1.75" ry="1.46" fill="#303050"/>
<ellipse cx="65.0" cy="365.9" rx="2.19" ry="1.90" fill="#30e070"/>
<ellipse cx="69.3" cy="366.7" rx="2.19" ry="1.90" fill="#30e070"/>
<ellipse cx="17.2" cy="372.2" rx="2.63" ry="2.34" fill="#d0a0f0"/>
<ellipse cx="14.6" cy="371.0" rx="1.75" ry="1.75" fill="#30c060"/>
<ellipse cx="21.9" cy="370.3" rx="1.90" ry="1.90" fill="#6010c0"/>
<ellipse cx="23.1" cy="373.2" rx="1.90" ry="1.90" fill="#e020e0"/>
<ellipse cx="22.6" cy="376.6" rx="2.19" ry="1.90" fill="#e0f0d0"/>
<ellipse cx="50.4" cy="370.6" rx="1.90" ry="1.90" fill="#2060c0"/>
<ellipse cx="56.9" cy="373.7" rx="2.63" ry="2.34" fill="#30c060"/>
<ellipse cx="63.8" cy="370.7" rx="2.19" ry="1.90" fill="#a060c0"/>
<ellipse cx="74.5" cy="370.7" rx="2.48" ry="2.19" fill="#40d0e0"/>
<ellipse cx="37.2" cy="376.6" rx="2.19" ry="1.90" fill="#e0f0d0"/>
<ellipse cx="47.9" cy="376.6" rx="2.92" ry="2.48" fill="#2060e0"/>
<ellipse cx="65.7" cy="375.4" rx="2.19" ry="1.90" fill="#208880"/>
<ellipse cx="64.2" cy="378.0" rx="2.48" ry="2.19" fill="#303070"/>
<ellipse cx="74.5" cy="375.1" rx="2.48" ry="2.19" fill="#904050"/>
<ellipse cx="80.3" cy="374.2" rx="2.19" ry="2.48" fill="#4060d0"/>
<ellipse cx="9.9" cy="382.4" rx="1.90" ry="2.48" fill="#d0b040"/>
<ellipse cx="8.0" cy="383.4" rx="1.46" ry="1.90" fill="#40c0e0"/>
<ellipse cx="17.5" cy="383.0" rx="2.63" ry="2.48" fill="#b0e0a0"/>
<ellipse cx="24.8" cy="383.9" rx="2.19" ry="1.90" fill="#6050f0"/>
<ellipse cx="29.9" cy="382.0" rx="2.19" ry="2.19" fill="#b09040"/>
<ellipse cx="32.4" cy="384.9" rx="1.90" ry="1.75" fill="#6030d0"/>
<ellipse cx="38.2" cy="385.9" rx="2.19" ry="2.19" fill="#90c040"/>
<ellipse cx="42.0" cy="382.0" rx="2.19" ry="2.19" fill="#2060e0"/>
<ellipse cx="44.5" cy="385.9" rx="2.63" ry="1.90" fill="#f06070"/>
<ellipse cx="53.3" cy="384.5" rx="2.48" ry="2.19" fill="#b08030"/>
<ellipse cx="50.8" cy="389.3" rx="2.48" ry="2.19" fill="#d0a030"/>
<ellipse cx="57.4" cy="387.8" rx="2.19" ry="2.19" fill="#a040c0"/>
<ellipse cx="67.4" cy="388.3" rx="2.48" ry="2.48" fill="#f09020"/>
<ellipse cx="75.2" cy="387.4" rx="1.75" ry="2.19" fill="#4010a0"/>
<ellipse cx="83.2" cy="383.4" rx="2.19" ry="1.90" fill="#904050"/>
<ellipse cx="82.5" cy="387.8" rx="2.48" ry="2.19" fill="#40a0a0"/>
<ellipse cx="23.6" cy="387.8" rx="2.19" ry="2.19" fill="#80c0e0"/>
<ellipse cx="12.4" cy="393.2" rx="2.92" ry="2.63" fill="#e0c060"/>
<ellipse cx="11.7" cy="395.1" rx="2.19" ry="1.90" fill="#40d0d0"/>
<ellipse cx="27.7" cy="391.5" rx="2.19" ry="1.46" fill="#60f0c0"/>
<ellipse cx="22.6" cy="394.7" rx="2.63" ry="2.48" fill="#f05020"/>
<ellipse cx="19.7" cy="400.5" rx="2.48" ry="2.19" fill="#904050"/>
<ellipse cx="27.0" cy="397.6" rx="2.48" ry="2.19" fill="#80d0e0"/>
<ellipse cx="27.0" cy="401.7" rx="2.48" ry="1.90" fill="#5080c0"/>
<ellipse cx="31.4" cy="399.5" rx="2.19" ry="2.19" fill="#e080e0"/>
<ellipse cx="24.5" cy="399.5" rx="1.75" ry="1.75" fill="#a03060"/>
<ellipse cx="63.9" cy="397.3" rx="2.48" ry="2.63" fill="#e060e0"/>
<ellipse cx="74.9" cy="395.6" rx="1.75" ry="1.75" fill="#e02020"/>
<ellipse cx="78.8" cy="392.6" rx="2.19" ry="2.19" fill="#303050"/>
<ellipse cx="81.8" cy="397.3" rx="2.48" ry="2.48" fill="#30b090"/>
<ellipse cx="84.7" cy="399.9" rx="1.90" ry="2.19" fill="#f06070"/>
<ellipse cx="86.1" cy="398.0" rx="1.75" ry="1.90" fill="#40d0a0"/>
<ellipse cx="70.8" cy="402.4" rx="1.90" ry="1.75" fill="#4010a0"/>
<ellipse cx="77.4" cy="402.4" rx="1.75" ry="2.19" fill="#c0a040"/>
<ellipse cx="76.6" cy="400.2" rx="1.75" ry="1.75" fill="#6050f0"/>
<ellipse cx="9.5" cy="404.3" rx="1.90" ry="2.48" fill="#303070"/>
<ellipse cx="14.3" cy="403.9" rx="2.48" ry="2.19" fill="#f060c0"/>
<ellipse cx="21.6" cy="405.8" rx="1.90" ry="1.75" fill="#401080"/>
<ellipse cx="30.7" cy="405.8" rx="1.90" ry="1.90" fill="#20c060"/>
<ellipse cx="84.7" cy="406.1" rx="1.46" ry="2.19" fill="#204050"/>
<ellipse cx="13.1" cy="411.9" rx="2.48" ry="2.92" fill="#60a040"/>
<ellipse cx="17.5" cy="412.6" rx="2.19" ry="2.19" fill="#e060e0"/>
<ellipse cx="19.0" cy="409.0" rx="1.90" ry="1.75" fill="#401090"/>
<ellipse cx="26.3" cy="411.5" rx="2.92" ry="2.19" fill="#40a040"/>
<ellipse cx="23.1" cy="416.6" rx="2.19" ry="1.90" fill="#e020e0"/>
<ellipse cx="24.1" cy="419.9" rx="1.90" ry="1.75" fill="#e020e0"/>
<ellipse cx="28.0" cy="418.8" rx="1.75" ry="1.75" fill="#30e080"/>
<ellipse cx="81.0" cy="412.6" rx="1.90" ry="2.19" fill="#e020e0"/>
<ellipse cx="73.0" cy="420.7" rx="2.92" ry="2.19" fill="#906050"/>
</g>
<text x="5.5" y="361.0" font-size="10.3" text-anchor="start" font-weight="normal" fill="#eeeeee" textLength="66.8" lengthAdjust="spacingAndGlyphs" >Segmentation</text>
<text x="8.3" y="481.5" font-size="11.0" text-anchor="start" font-weight="normal" fill="#000" textLength="81.5" lengthAdjust="spacingAndGlyphs" >Human embryo 3</text>
<clipPath id="c455"><rect x="0" y="485.4" width="99.2" height="97.2"/></clipPath>
<rect x="0" y="485.4" width="99.2" height="97.2" fill="#000"/>
<g clip-path="url(#c455)">
<circle cx="52.5" cy="532" r="40" fill="url(#discg)" opacity="0.07"/>
<circle cx="75" cy="532" r="20" fill="url(#rg)" opacity="0.18"/>
<g>
<ellipse cx="63.4" cy="510.6" rx="4.00" ry="3.00" fill="url(#soft)" opacity="0.39"/>
<ellipse cx="71.6" cy="507.7" rx="3.50" ry="2.60" fill="url(#soft)" opacity="0.34" transform="rotate(30 71.6 507.7)"/>
<ellipse cx="50.3" cy="514.5" rx="2.60" ry="2.60" fill="url(#soft)" opacity="0.29"/>
<ellipse cx="65.8" cy="518.4" rx="2.60" ry="2.60" fill="url(#soft)" opacity="0.39"/>
<ellipse cx="66.5" cy="520.8" rx="3.20" ry="3.20" fill="url(#soft)" opacity="0.82"/>
<ellipse cx="62.9" cy="524.7" rx="3.50" ry="3.00" fill="url(#soft)" opacity="0.82"/>
<ellipse cx="77.4" cy="517.4" rx="3.00" ry="3.00" fill="url(#soft)" opacity="0.44"/>
<ellipse cx="75" cy="524.7" rx="3.50" ry="4.00" fill="url(#soft)" opacity="0.48"/>
<ellipse cx="84.2" cy="521.8" rx="2.80" ry="4.20" fill="url(#soft)" opacity="0.97" transform="rotate(-30 84.2 521.8)"/>
<ellipse cx="81.8" cy="529" rx="3.50" ry="3.50" fill="url(#soft)" opacity="0.48"/>
<ellipse cx="86.6" cy="530.5" rx="2.60" ry="4.00" fill="url(#soft)" opacity="0.87"/>
<ellipse cx="54.7" cy="532.4" rx="4.00" ry="4.50" fill="url(#soft)" opacity="0.82"/>
<ellipse cx="49.4" cy="538.2" rx="4.00" ry="4.00" fill="url(#soft)" opacity="0.34"/>
<ellipse cx="66.3" cy="529" rx="2.60" ry="2.60" fill="url(#soft)" opacity="0.34"/>
<ellipse cx="71.1" cy="534.8" rx="3.50" ry="3.50" fill="url(#soft)" opacity="0.53"/>
<ellipse cx="74" cy="533.4" rx="3.50" ry="3.50" fill="url(#soft)" opacity="0.44"/>
<ellipse cx="82.3" cy="536.8" rx="3.50" ry="4.00" fill="url(#soft)" opacity="0.87"/>
<ellipse cx="87.6" cy="537.6" rx="3.50" ry="3.20" fill="url(#soft)" opacity="0.97"/>
<ellipse cx="83.7" cy="543.6" rx="3.80" ry="3.50" fill="url(#soft)" opacity="0.97"/>
<ellipse cx="63.4" cy="552.3" rx="4.00" ry="3.80" fill="url(#soft)" opacity="0.92"/>
<ellipse cx="56.6" cy="548.4" rx="2.30" ry="2.30" fill="url(#soft)" opacity="0.87"/>
<ellipse cx="60.5" cy="535.3" rx="2.00" ry="2.00" fill="url(#soft)" opacity="0.58"/>
<ellipse cx="60" cy="543" rx="2.00" ry="2.00" fill="url(#soft)" opacity="0.48"/>
<ellipse cx="63.4" cy="547" rx="2.10" ry="2.10" fill="url(#soft)" opacity="0.48"/>
<ellipse cx="71.6" cy="541.6" rx="2.30" ry="2.30" fill="url(#soft)" opacity="0.34"/>
<ellipse cx="74" cy="547.4" rx="3.50" ry="3.50" fill="url(#soft)" opacity="0.29"/>
<ellipse cx="84.7" cy="555.7" rx="2.50" ry="4.30" fill="url(#soft)" opacity="0.29" transform="rotate(20 84.7 555.7)"/>
<ellipse cx="53.7" cy="562.9" rx="2.30" ry="2.30" fill="url(#soft)" opacity="0.29"/>
<ellipse cx="58.6" cy="501" rx="2.60" ry="2.60" fill="url(#soft)" opacity="0.29"/>
<ellipse cx="22.6" cy="531.4" rx="3.30" ry="3.30" fill="url(#soft)" opacity="0.44"/>
<ellipse cx="16" cy="531.4" rx="3.00" ry="3.00" fill="url(#soft)" opacity="0.34"/>
<ellipse cx="19.7" cy="521.2" rx="3.00" ry="3.00" fill="url(#soft)" opacity="0.29"/>
<ellipse cx="19.7" cy="544.6" rx="3.10" ry="3.70" fill="url(#soft)" opacity="0.34"/>
<ellipse cx="32.1" cy="557" rx="3.60" ry="3.60" fill="url(#soft)" opacity="0.44"/>
<ellipse cx="35" cy="561" rx="2.10" ry="2.10" fill="url(#soft)" opacity="0.39"/>
<ellipse cx="32.1" cy="510" rx="2.90" ry="2.90" fill="url(#soft)" opacity="0.29"/>
<ellipse cx="49.6" cy="514.7" rx="2.60" ry="2.60" fill="url(#soft)" opacity="0.29"/>
<ellipse cx="52.6" cy="562" rx="2.30" ry="2.30" fill="url(#soft)" opacity="0.29"/>
<ellipse cx="45" cy="552" rx="2.10" ry="2.10" fill="url(#soft)" opacity="0.29"/>
</g></g>
<text x="3.6" y="498.0" font-size="10.3" text-anchor="start" font-weight="normal" fill="#eeeeee" textLength="64.3" lengthAdjust="spacingAndGlyphs" >H2B-mCherry</text>
<rect x="89.8" y="571.8" width="8.3" height="3.2" fill="#fff"/>
<rect x="0" y="590.3" width="99.0" height="97.8" fill="#000"/>
<g filter="url(#bseg)">
<ellipse cx="45.3" cy="606.2" rx="2.48" ry="1.46" fill="#e020d0"/>
<ellipse cx="58.4" cy="606.2" rx="2.48" ry="1.46" fill="#f060c0"/>
<ellipse cx="71.2" cy="613.5" rx="2.48" ry="1.75" fill="#f09040"/>
<ellipse cx="31.4" cy="616.9" rx="2.19" ry="2.19" fill="#2060b0"/>
<ellipse cx="62.5" cy="616.0" rx="2.63" ry="2.34" fill="#2080e0"/>
<ellipse cx="20.4" cy="624.8" rx="1.75" ry="1.75" fill="#906050"/>
<ellipse cx="20.4" cy="628.6" rx="1.75" ry="1.90" fill="#a04030"/>
<ellipse cx="66.4" cy="626.2" rx="2.63" ry="2.48" fill="#d0f060"/>
<ellipse cx="77.1" cy="623.3" rx="2.48" ry="2.48" fill="#303820"/>
<ellipse cx="81.0" cy="624.5" rx="1.46" ry="2.04" fill="#c08020"/>
<ellipse cx="82.9" cy="627.4" rx="2.04" ry="2.92" fill="#90b040"/>
<ellipse cx="62.8" cy="630.3" rx="2.48" ry="2.19" fill="#2040e0"/>
<ellipse cx="74.5" cy="630.3" rx="2.63" ry="2.63" fill="#3060b0"/>
<ellipse cx="22.6" cy="637.3" rx="2.48" ry="2.48" fill="#a03020"/>
<ellipse cx="54.0" cy="637.6" rx="3.21" ry="3.50" fill="#f060e0"/>
<ellipse cx="79.6" cy="635.4" rx="2.19" ry="2.19" fill="#f0b0f0"/>
<ellipse cx="82.0" cy="634.0" rx="2.19" ry="2.19" fill="#f06020"/>
<ellipse cx="86.1" cy="635.9" rx="2.19" ry="2.63" fill="#60a0b0"/>
<ellipse cx="83.2" cy="638.4" rx="1.75" ry="1.75" fill="#c01060"/>
<ellipse cx="70.1" cy="640.6" rx="2.19" ry="2.48" fill="#4010a0"/>
<ellipse cx="73.3" cy="639.4" rx="2.63" ry="2.63" fill="#c090b0"/>
<ellipse cx="81.8" cy="642.7" rx="2.92" ry="2.92" fill="#20e040"/>
<ellipse cx="87.2" cy="643.2" rx="2.19" ry="1.90" fill="#70c0d0"/>
<ellipse cx="80.6" cy="650.8" rx="2.92" ry="2.63" fill="#f040e0"/>
<ellipse cx="82.5" cy="649.0" rx="2.63" ry="2.19" fill="#e01040"/>
<ellipse cx="19.7" cy="650.5" rx="2.19" ry="3.21" fill="#303050"/>
<ellipse cx="63.1" cy="657.8" rx="3.21" ry="2.92" fill="#e0f0d0"/>
<ellipse cx="32.8" cy="663.2" rx="2.92" ry="2.19" fill="#a020c0"/>
<ellipse cx="83.9" cy="660.7" rx="1.46" ry="2.04" fill="#c09090"/>
</g>
<text x="3.6" y="602.7" font-size="10.3" text-anchor="start" font-weight="normal" fill="#eeeeee" textLength="66.4" lengthAdjust="spacingAndGlyphs" >Segmentation</text>
<path d="M108.5 221.0V394.5 M106.5 394.5H111.5 M106.5 394.5V446.4 M111.5 394.5V446.4 M113.5 221.0V446.4 M118.5 221.0V307.5 M116.5 307.5H121.5 M116.5 307.5V446.4 M121.5 307.5V446.4 M131.5 221.0V255.5 M126.5 255.5H136.5 M126.5 255.5V403.5 M124.5 403.5H129.5 M124.5 403.5V446.4 M129.5 403.5V446.4 M136.5 255.5V426.5 M134.5 426.5H139.5 M134.5 426.5V446.4 M139.5 426.5V446.4 M141.5 221.0V446.4 M151.5 221.0V342.5 M146.5 342.5H153.5 M146.5 342.5V435.5 M144.5 435.5H149.5 M144.5 435.5V446.4 M149.5 435.5V446.4 M153.5 342.5V446.4 M157.5 221.0V446.4 M162.5 221.0V239.5 M159.5 239.5H164.5 M159.5 239.5V446.4 M164.5 239.5V446.4 M169.5 221.0V223.5 M167.5 223.5H172.5 M167.5 223.5V446.4 M172.5 223.5V446.4 M174.5 221.0V413.4 M179.5 221.0V248.5 M177.5 248.5H182.5 M177.5 248.5V446.4 M182.5 248.5V446.4 M184.5 221.0V446.4 M187.5 221.0V446.4 M192.5 221.0V428.5 M189.5 428.5H194.5 M189.5 428.5V446.4 M194.5 428.5V446.4 M200.5 221.0V234.5 M197.5 234.5H205.5 M197.5 234.5V446.4 M205.5 234.5V433.5 M202.5 433.5H207.5 M202.5 433.5V446.4 M207.5 433.5V446.4 M210.5 221.0V446.4 M213.5 221.0V446.4 M217.5 221.0V380.5 M215.5 380.5H220.5 M215.5 380.5V446.4 M220.5 380.5V446.4 M229.5 221.0V223.5 M225.5 223.5H232.5 M225.5 223.5V360.5 M222.5 360.5H227.5 M222.5 360.5V446.4 M227.5 360.5V446.4 M232.5 223.5V398.5 M235.5 221.0V446.4 M237.5 221.0V446.4 M240.5 221.0V446.4 M245.5 221.0V255.5 M243.5 255.5H248.5 M243.5 255.5V446.4 M248.5 255.5V398.5 M253.5 221.0V380.5 M251.5 380.5H255.5 M251.5 380.5V446.4 M255.5 380.5V446.4 M261.5 221.0V355.5 M258.5 355.5H263.5 M258.5 355.5V409.8 M263.5 355.5V446.4 M268.5 221.0V314.5 M266.5 314.5H271.5 M266.5 314.5V446.4 M271.5 314.5V446.4 M276.5 221.0V251.5 M273.5 251.5H278.5 M273.5 251.5V446.4 M278.5 251.5V446.4 M283.5 221.0V376.5 M281.5 376.5H286.5 M281.5 376.5V446.4 M286.5 376.5V446.4 M291.5 221.0V273.5 M289.5 273.5H294.5 M289.5 273.5V446.4 M294.5 273.5V446.4 M299.5 221.0V437.5 M296.5 437.5H301.5 M296.5 437.5V446.4 M301.5 437.5V446.4 M304.5 221.0V446.4 M306.5 221.0V446.4 M308.5 221.0V446.4 M311.5 221.0V446.4 M316.5 221.0V333.5 M314.5 333.5H319.5 M314.5 333.5V446.4 M319.5 333.5V446.4 M324.5 221.0V385.5 M322.5 385.5H327.5 M322.5 385.5V446.4 M327.5 385.5V446.4 M331.5 221.0V260.5 M329.5 260.5H334.5 M329.5 260.5V398.5 M334.5 260.5V446.4 M339.5 221.0V298.5 M337.5 298.5H342.5 M337.5 298.5V446.4 M342.5 298.5V446.4 M347.5 221.0V314.5 M344.5 314.5H349.5 M344.5 314.5V446.4 M349.5 314.5V446.4 M354.5 221.0V280.5 M352.5 280.5H357.5 M352.5 280.5V446.4 M357.5 280.5V446.4 M367.5 221.0V257.5 M362.5 257.5H370.5 M362.5 257.5V349.5 M360.5 349.5H365.5 M360.5 349.5V446.4 M365.5 349.5V446.4 M370.5 257.5V446.4 M372.5 221.0V446.4 M375.5 221.0V446.4 M380.5 221.0V296.5 M377.5 296.5H385.5 M377.5 296.5V414.2 M385.5 296.5V419.5 M383.5 419.5H387.5 M383.5 419.5V446.4 M387.5 419.5V446.4 M398.5 221.0V230.5 M392.5 230.5H400.5 M392.5 230.5V392.5 M390.5 392.5H395.5 M390.5 392.5V446.4 M395.5 392.5V446.4 M400.5 230.5V446.4 M405.5 221.0V446.4" stroke="#3333ff" stroke-width="1.0" fill="none"/>
<polygon points="174.60,414.55 175.10,415.81 176.45,415.90 175.41,416.76 175.75,418.08 174.60,417.35 173.45,418.08 173.79,416.76 172.75,415.90 174.10,415.81" fill="#3333ff"/>
<polygon points="232.90,399.65 233.40,400.91 234.75,401.00 233.71,401.86 234.05,403.18 232.90,402.45 231.75,403.18 232.09,401.86 231.05,401.00 232.40,400.91" fill="#3333ff"/>
<polygon points="248.50,399.65 249.00,400.91 250.35,401.00 249.31,401.86 249.65,403.18 248.50,402.45 247.35,403.18 247.69,401.86 246.65,401.00 248.00,400.91" fill="#3333ff"/>
<polygon points="258.60,410.95 259.10,412.21 260.45,412.30 259.41,413.16 259.75,414.48 258.60,413.75 257.45,414.48 257.79,413.16 256.75,412.30 258.10,412.21" fill="#3333ff"/>
<polygon points="329.40,399.65 329.90,400.91 331.25,401.00 330.21,401.86 330.55,403.18 329.40,402.45 328.25,403.18 328.59,401.86 327.55,401.00 328.90,400.91" fill="#3333ff"/>
<polygon points="377.90,415.35 378.40,416.61 379.75,416.70 378.71,417.56 379.05,418.88 377.90,418.15 376.75,418.88 377.09,417.56 376.05,416.70 377.40,416.61" fill="#3333ff"/>
<path d="M118.5 472.9V485.5 M113.5 485.5H126.5 M113.5 485.5V716.3 M126.5 485.5V630.5 M122.5 630.5H130.5 M122.5 630.5V716.3 M130.5 630.5V716.3 M146.5 472.9V482.5 M138.5 482.5H154.5 M138.5 482.5V628.5 M134.5 628.5H142.5 M134.5 628.5V701.6 M142.5 628.5V716.3 M154.5 482.5V630.5 M150.5 630.5H158.5 M150.5 630.5V716.3 M158.5 630.5V716.3 M166.5 472.9V534.5 M162.5 534.5H170.5 M162.5 534.5V716.3 M170.5 534.5V716.3 M178.5 472.9V531.5 M174.5 531.5H182.5 M174.5 531.5V716.3 M182.5 531.5V716.3 M186.5 472.9V637.6 M203.5 472.9V475.5 M195.5 475.5H211.5 M195.5 475.5V596.5 M191.5 596.5H199.5 M191.5 596.5V716.3 M199.5 596.5V716.3 M211.5 475.5V637.5 M207.5 637.5H215.5 M207.5 637.5V716.3 M215.5 637.5V716.3 M223.5 472.9V625.5 M219.5 625.5H227.5 M219.5 625.5V716.3 M227.5 625.5V716.3 M235.5 472.9V531.5 M231.5 531.5H239.5 M231.5 531.5V716.3 M239.5 531.5V716.3 M255.5 472.9V509.5 M247.5 509.5H263.5 M247.5 509.5V694.5 M243.5 694.5H251.5 M243.5 694.5V716.3 M251.5 694.5V716.3 M263.5 509.5V672.5 M259.5 672.5H267.5 M259.5 672.5V716.3 M267.5 672.5V716.3 M275.5 472.9V512.5 M271.5 512.5H283.5 M271.5 512.5V716.3 M283.5 512.5V684.5 M279.5 684.5H287.5 M279.5 684.5V716.3 M287.5 684.5V716.3 M295.5 472.9V553.5 M291.5 553.5H299.5 M291.5 553.5V703.9 M299.5 553.5V716.3 M303.5 472.9V716.3 M311.5 472.9V618.5 M307.5 618.5H316.5 M307.5 618.5V716.3 M316.5 618.5V716.3 M320.5 472.9V716.3 M324.5 472.9V674.8 M332.5 472.9V551.5 M328.5 551.5H336.5 M328.5 551.5V716.3 M336.5 551.5V716.3 M344.5 472.9V613.5 M340.5 613.5H348.5 M340.5 613.5V716.3 M348.5 613.5V716.3 M352.5 472.9V716.3 M356.5 472.9V716.3" stroke="#3333ff" stroke-width="1.0" fill="none"/>
<polygon points="187.30,640.15 187.80,641.41 189.15,641.50 188.11,642.36 188.45,643.68 187.30,642.95 186.15,643.68 186.49,642.36 185.45,641.50 186.80,641.41" fill="#3333ff"/>
<polygon points="324.70,677.35 325.20,678.61 326.55,678.70 325.51,679.56 325.85,680.88 324.70,680.15 323.55,680.88 323.89,679.56 322.85,678.70 324.20,678.61" fill="#3333ff"/>
<polygon points="142.60,718.65 143.10,719.91 144.45,720.00 143.41,720.86 143.75,722.18 142.60,721.45 141.45,722.18 141.79,720.86 140.75,720.00 142.10,719.91" fill="#3333ff"/>
<polygon points="299.60,718.65 300.10,719.91 301.45,720.00 300.41,720.86 300.75,722.18 299.60,721.45 298.45,722.18 298.79,720.86 297.75,720.00 299.10,719.91" fill="#3333ff"/>
<path d="M429.1 220.4H423.6V443.2H429.1 M423.6 332.2H429.1" stroke="#555" stroke-width="0.9" fill="none"/>
<text x="433.20000000000005" y="224.0" font-size="8.2" text-anchor="start" font-weight="normal" fill="#000" textLength="28.6" lengthAdjust="spacingAndGlyphs" >5.5 dpf</text>
<text x="433.20000000000005" y="335.2" font-size="8.2" text-anchor="start" font-weight="normal" fill="#000" textLength="21.215999999999998" lengthAdjust="spacingAndGlyphs" >6 dpf</text>
<text x="433.20000000000005" y="446.2" font-size="8.2" text-anchor="start" font-weight="normal" fill="#000" textLength="28.6" lengthAdjust="spacingAndGlyphs" >6.5 dpf</text>
<text transform="translate(418.9,332.3) rotate(-90)" font-size="10.4" text-anchor="middle" textLength="97" lengthAdjust="spacingAndGlyphs">Developmental time</text>
<polygon points="432.70,234.10 433.26,235.53 434.79,235.62 433.61,236.60 433.99,238.08 432.70,237.26 431.41,238.08 431.79,236.60 430.61,235.62 432.14,235.53" fill="#3333ff"/>
<rect x="428.4" y="246.9" width="8.7" height="8.6" fill="#0000ff"/>
<rect x="428.4" y="260.8" width="8.7" height="8.8" fill="#ff0033"/>
<text x="442.7" y="239.4" font-size="10.0" text-anchor="start" font-weight="normal" fill="#000" textLength="47.6" lengthAdjust="spacingAndGlyphs" >Apoptosis</text>
<text x="443.0" y="254.4" font-size="10.0" text-anchor="start" font-weight="normal" fill="#000" textLength="11.4" lengthAdjust="spacingAndGlyphs" >TE</text>
<text x="442.7" y="269.0" font-size="10.0" text-anchor="start" font-weight="normal" fill="#000" textLength="44.2" lengthAdjust="spacingAndGlyphs" >Inner cell</text>
<path d="M388.3 473.1H382.8V713.5H388.3 M382.8 593.5H388.3" stroke="#555" stroke-width="0.9" fill="none"/>
<text x="392.8" y="476.70000000000005" font-size="8.61" text-anchor="start" font-weight="normal" fill="#000" textLength="30.03" lengthAdjust="spacingAndGlyphs" >5.5 dpf</text>
<text x="392.8" y="596.5" font-size="8.61" text-anchor="start" font-weight="normal" fill="#000" textLength="22.276799999999998" lengthAdjust="spacingAndGlyphs" >6 dpf</text>
<text x="392.8" y="716.5" font-size="8.61" text-anchor="start" font-weight="normal" fill="#000" textLength="30.03" lengthAdjust="spacingAndGlyphs" >6.5 dpf</text>
<text transform="translate(378.0,596.0) rotate(-90)" font-size="10.4" text-anchor="middle" textLength="97" lengthAdjust="spacingAndGlyphs">Developmental time</text>
<polygon points="395.20,485.40 395.76,486.83 397.29,486.92 396.11,487.90 396.49,489.38 395.20,488.56 393.91,489.38 394.29,487.90 393.11,486.92 394.64,486.83" fill="#3333ff"/>
<rect x="390.9" y="498.2" width="8.7" height="8.6" fill="#0000ff"/>
<rect x="390.9" y="512.1" width="8.7" height="8.8" fill="#ff0033"/>
<text x="405.2" y="490.7" font-size="10.0" text-anchor="start" font-weight="normal" fill="#000" textLength="47.6" lengthAdjust="spacingAndGlyphs" >Apoptosis</text>
<text x="405.5" y="505.7" font-size="10.0" text-anchor="start" font-weight="normal" fill="#000" textLength="11.4" lengthAdjust="spacingAndGlyphs" >TE</text>
<text x="405.2" y="520.3" font-size="10.0" text-anchor="start" font-weight="normal" fill="#000" textLength="44.2" lengthAdjust="spacingAndGlyphs" >Inner cell</text>
<rect x="542.5" y="19.5" width="142.0" height="136.0" fill="none" stroke="#7c7c7c" stroke-width="1"/>
<text x="534.4" y="159.3" font-size="8.772" text-anchor="end" font-weight="normal" fill="#000" textLength="5.5" lengthAdjust="spacingAndGlyphs" >0</text>
<text x="534.4" y="138.8" font-size="8.772" text-anchor="end" font-weight="normal" fill="#000" textLength="11.0" lengthAdjust="spacingAndGlyphs" >10</text>
<text x="534.4" y="118.3" font-size="8.772" text-anchor="end" font-weight="normal" fill="#000" textLength="11.0" lengthAdjust="spacingAndGlyphs" >20</text>
<text x="534.4" y="97.8" font-size="8.772" text-anchor="end" font-weight="normal" fill="#000" textLength="11.0" lengthAdjust="spacingAndGlyphs" >30</text>
<text x="534.4" y="77.3" font-size="8.772" text-anchor="end" font-weight="normal" fill="#000" textLength="11.0" lengthAdjust="spacingAndGlyphs" >40</text>
<text x="534.4" y="56.80000000000001" font-size="8.772" text-anchor="end" font-weight="normal" fill="#000" textLength="11.0" lengthAdjust="spacingAndGlyphs" >50</text>
<text x="534.4" y="36.30000000000001" font-size="8.772" text-anchor="end" font-weight="normal" fill="#000" textLength="11.0" lengthAdjust="spacingAndGlyphs" >60</text>
<text transform="translate(547.80,166.5) rotate(-45)" font-size="9.03" text-anchor="end" textLength="5.8" lengthAdjust="spacingAndGlyphs">0</text>
<text transform="translate(565.95,166.5) rotate(-45)" font-size="9.03" text-anchor="end" textLength="17.2" lengthAdjust="spacingAndGlyphs">200</text>
<text transform="translate(584.10,166.5) rotate(-45)" font-size="9.03" text-anchor="end" textLength="17.2" lengthAdjust="spacingAndGlyphs">400</text>
<text transform="translate(602.25,166.5) rotate(-45)" font-size="9.03" text-anchor="end" textLength="17.2" lengthAdjust="spacingAndGlyphs">600</text>
<text transform="translate(620.40,166.5) rotate(-45)" font-size="9.03" text-anchor="end" textLength="17.2" lengthAdjust="spacingAndGlyphs">800</text>
<text transform="translate(638.55,166.5) rotate(-45)" font-size="9.03" text-anchor="end" textLength="24.7" lengthAdjust="spacingAndGlyphs">1,000</text>
<text transform="translate(656.70,166.5) rotate(-45)" font-size="9.03" text-anchor="end" textLength="24.7" lengthAdjust="spacingAndGlyphs">1,200</text>
<text transform="translate(674.85,166.5) rotate(-45)" font-size="9.03" text-anchor="end" textLength="24.7" lengthAdjust="spacingAndGlyphs">1,400</text>
<path d="M539.2 155.5H542.5 M539.2 135.5H542.5 M539.2 114.5H542.5 M539.2 94.5H542.5 M539.2 73.5H542.5 M539.2 53.5H542.5 M539.2 32.5H542.5 M542.5 155.5V158.9 M560.5 155.5V158.9 M578.5 155.5V158.9 M597.5 155.5V158.9 M615.5 155.5V158.9 M633.5 155.5V158.9 M651.5 155.5V158.9 M669.5 155.5V158.9" stroke="#7c7c7c" stroke-width="1" fill="none"/>
<polyline points="542.9,92.0 550.0,92.0 551.2,87.9 553.5,81.8 557.0,81.8 557.6,79.7 563.5,79.7 565.6,75.5 579.4,75.5 580.6,73.3 583.5,71.3 590.5,71.3 591.5,69.2 594.3,69.2 595.8,71.3 601.1,71.3 603.5,67.1 612.3,67.1 613.0,60.9 614.9,59.0 616.8,55.3 618.6,54.7 621.1,49.1 623.6,47.9 625.4,44.8 627.3,43.5 628.5,40.4 632.3,38.0 634.7,34.2 638.5,33.6 642.2,31.8 642.8,27.8 647.8,27.8 648.4,25.9 668.9,25.9 670.1,23.9 677.0,23.9 678.4,22.4" fill="none" stroke="#000" stroke-width="1.6" stroke-linejoin="round"/>
<text transform="translate(516.0,87.5) rotate(-90)" font-size="10.9" text-anchor="middle" textLength="130.5" lengthAdjust="spacingAndGlyphs">Number of observed nuclei</text>
<text x="588.7" y="197.5" font-size="10.2" text-anchor="start" font-weight="normal" fill="#000" textLength="50.5" lengthAdjust="spacingAndGlyphs" >Time (min)</text>
<rect x="538.5" y="255.5" width="143.0" height="140.0" fill="none" stroke="#7c7c7c" stroke-width="1"/>
<text x="530.4" y="399.6" font-size="8.772" text-anchor="end" font-weight="normal" fill="#000" textLength="5.5" lengthAdjust="spacingAndGlyphs" >0</text>
<text x="530.4" y="381.40000000000003" font-size="8.772" text-anchor="end" font-weight="normal" fill="#000" textLength="11.0" lengthAdjust="spacingAndGlyphs" >10</text>
<text x="530.4" y="363.20000000000005" font-size="8.772" text-anchor="end" font-weight="normal" fill="#000" textLength="11.0" lengthAdjust="spacingAndGlyphs" >20</text>
<text x="530.4" y="345.0" font-size="8.772" text-anchor="end" font-weight="normal" fill="#000" textLength="11.0" lengthAdjust="spacingAndGlyphs" >30</text>
<text x="530.4" y="326.8" font-size="8.772" text-anchor="end" font-weight="normal" fill="#000" textLength="11.0" lengthAdjust="spacingAndGlyphs" >40</text>
<text x="530.4" y="308.6" font-size="8.772" text-anchor="end" font-weight="normal" fill="#000" textLength="11.0" lengthAdjust="spacingAndGlyphs" >50</text>
<text x="530.4" y="290.40000000000003" font-size="8.772" text-anchor="end" font-weight="normal" fill="#000" textLength="11.0" lengthAdjust="spacingAndGlyphs" >60</text>
<text x="530.4" y="272.2" font-size="8.772" text-anchor="end" font-weight="normal" fill="#000" textLength="11.0" lengthAdjust="spacingAndGlyphs" >70</text>
<text transform="translate(543.90,406.8) rotate(-45)" font-size="9.03" text-anchor="end" textLength="5.8" lengthAdjust="spacingAndGlyphs">0</text>
<text transform="translate(562.50,406.8) rotate(-45)" font-size="9.03" text-anchor="end" textLength="17.2" lengthAdjust="spacingAndGlyphs">200</text>
<text transform="translate(581.10,406.8) rotate(-45)" font-size="9.03" text-anchor="end" textLength="17.2" lengthAdjust="spacingAndGlyphs">400</text>
<text transform="translate(599.70,406.8) rotate(-45)" font-size="9.03" text-anchor="end" textLength="17.2" lengthAdjust="spacingAndGlyphs">600</text>
<text transform="translate(618.30,406.8) rotate(-45)" font-size="9.03" text-anchor="end" textLength="17.2" lengthAdjust="spacingAndGlyphs">800</text>
<text transform="translate(636.90,406.8) rotate(-45)" font-size="9.03" text-anchor="end" textLength="24.7" lengthAdjust="spacingAndGlyphs">1,000</text>
<text transform="translate(655.50,406.8) rotate(-45)" font-size="9.03" text-anchor="end" textLength="24.7" lengthAdjust="spacingAndGlyphs">1,200</text>
<text transform="translate(674.10,406.8) rotate(-45)" font-size="9.03" text-anchor="end" textLength="24.7" lengthAdjust="spacingAndGlyphs">1,400</text>
<path d="M535.2 395.5H538.5 M535.2 377.5H538.5 M535.2 359.5H538.5 M535.2 341.5H538.5 M535.2 323.5H538.5 M535.2 304.5H538.5 M535.2 286.5H538.5 M535.2 268.5H538.5 M538.5 395.5V398.9 M557.5 395.5V398.9 M575.5 395.5V398.9 M594.5 395.5V398.9 M613.5 395.5V398.9 M631.5 395.5V398.9 M650.5 395.5V398.9 M668.5 395.5V398.9" stroke="#7c7c7c" stroke-width="1" fill="none"/>
<polyline points="539.9,312.2 541.6,308.3 544.5,308.3 546.9,306.6 549.2,304.8 551.5,303.1 555.6,303.1 558.0,299.6 560.3,299.0 561.5,295.5 563.8,292.0 570.8,292.0 572.6,290.2 575.5,290.2 576.6,288.1 584.8,288.1 587.2,285.0 591.8,285.0 593.6,283.0 596.5,283.0 597.7,279.2 607.5,279.2 608.8,277.2 612.7,277.2 614.0,275.2 617.3,275.2 618.7,273.5 621.9,273.5 623.2,271.5 625.2,270.0 633.8,270.0 635.1,268.2 637.0,268.0 638.4,264.7 641.0,263.0 643.6,263.0 646.9,258.8 648.2,259.0 649.1,264.7 650.8,264.7 651.8,263.0 654.8,263.0 657.4,264.7 659.1,268.6 660.7,267.6 664.0,266.9 666.6,263.7 669.2,262.3 672.5,257.5 679.1,257.5" fill="none" stroke="#000" stroke-width="1.6" stroke-linejoin="round"/>
<text transform="translate(512.9,326.2) rotate(-90)" font-size="10.9" text-anchor="middle" textLength="130.5" lengthAdjust="spacingAndGlyphs">Number of observed nuclei</text>
<text x="585.4" y="437.5" font-size="10.2" text-anchor="start" font-weight="normal" fill="#000" textLength="50.5" lengthAdjust="spacingAndGlyphs" >Time (min)</text>
<rect x="539.5" y="475.5" width="144.0" height="144.0" fill="none" stroke="#7c7c7c" stroke-width="1"/>
<text x="531.5" y="623.6999999999999" font-size="8.772" text-anchor="end" font-weight="normal" fill="#000" textLength="5.5" lengthAdjust="spacingAndGlyphs" >0</text>
<text x="531.5" y="604.7199999999999" font-size="8.772" text-anchor="end" font-weight="normal" fill="#000" textLength="5.5" lengthAdjust="spacingAndGlyphs" >5</text>
<text x="531.5" y="585.7399999999999" font-size="8.772" text-anchor="end" font-weight="normal" fill="#000" textLength="11.0" lengthAdjust="spacingAndGlyphs" >10</text>
<text x="531.5" y="566.76" font-size="8.772" text-anchor="end" font-weight="normal" fill="#000" textLength="11.0" lengthAdjust="spacingAndGlyphs" >15</text>
<text x="531.5" y="547.78" font-size="8.772" text-anchor="end" font-weight="normal" fill="#000" textLength="11.0" lengthAdjust="spacingAndGlyphs" >20</text>
<text x="531.5" y="528.8" font-size="8.772" text-anchor="end" font-weight="normal" fill="#000" textLength="11.0" lengthAdjust="spacingAndGlyphs" >25</text>
<text x="531.5" y="509.82" font-size="8.772" text-anchor="end" font-weight="normal" fill="#000" textLength="11.0" lengthAdjust="spacingAndGlyphs" >30</text>
<text x="531.5" y="490.84" font-size="8.772" text-anchor="end" font-weight="normal" fill="#000" textLength="11.0" lengthAdjust="spacingAndGlyphs" >35</text>
<text transform="translate(544.90,630.9) rotate(-45)" font-size="9.03" text-anchor="end" textLength="5.8" lengthAdjust="spacingAndGlyphs">0</text>
<text transform="translate(563.80,630.9) rotate(-45)" font-size="9.03" text-anchor="end" textLength="17.2" lengthAdjust="spacingAndGlyphs">200</text>
<text transform="translate(582.70,630.9) rotate(-45)" font-size="9.03" text-anchor="end" textLength="17.2" lengthAdjust="spacingAndGlyphs">400</text>
<text transform="translate(601.60,630.9) rotate(-45)" font-size="9.03" text-anchor="end" textLength="17.2" lengthAdjust="spacingAndGlyphs">600</text>
<text transform="translate(620.50,630.9) rotate(-45)" font-size="9.03" text-anchor="end" textLength="17.2" lengthAdjust="spacingAndGlyphs">800</text>
<text transform="translate(639.40,630.9) rotate(-45)" font-size="9.03" text-anchor="end" textLength="24.7" lengthAdjust="spacingAndGlyphs">1,000</text>
<text transform="translate(658.30,630.9) rotate(-45)" font-size="9.03" text-anchor="end" textLength="24.7" lengthAdjust="spacingAndGlyphs">1,200</text>
<text transform="translate(677.20,630.9) rotate(-45)" font-size="9.03" text-anchor="end" textLength="24.7" lengthAdjust="spacingAndGlyphs">1,400</text>
<path d="M536.2 619.5H539.5 M536.2 600.5H539.5 M536.2 581.5H539.5 M536.2 562.5H539.5 M536.2 543.5H539.5 M536.2 525.5H539.5 M536.2 506.5H539.5 M536.2 487.5H539.5 M539.5 619.5V622.9 M558.5 619.5V622.9 M577.5 619.5V622.9 M596.5 619.5V622.9 M615.5 619.5V622.9 M634.5 619.5V622.9 M653.5 619.5V622.9 M672.5 619.5V622.9" stroke="#7c7c7c" stroke-width="1" fill="none"/>
<polyline points="540.6,548.1 542.2,544.0 545.5,544.0 548.0,536.0 561.2,536.0 563.5,528.8 574.4,528.8 575.6,520.8 576.6,517.2 585.4,517.2 587.7,509.6 611.4,509.7 612.1,506.0 621.3,506.0 621.9,502.3 624.6,502.3 625.2,498.5 628.5,498.5 629.4,494.8 630.5,491.5 632.1,483.4 655.4,483.4 656.4,479.4 657.4,482.6 659.4,483.4 660.7,487.3 662.7,487.3 663.6,483.4 667.9,483.4 668.8,479.4 672.5,479.4 674.5,483.7 675.4,490.2 677.8,498.8 683.0,498.8" fill="none" stroke="#000" stroke-width="1.6" stroke-linejoin="round"/>
<text transform="translate(514.3,548.2) rotate(-90)" font-size="10.9" text-anchor="middle" textLength="130.5" lengthAdjust="spacingAndGlyphs">Number of observed nuclei</text>
<text x="586.5" y="661.5" font-size="10.2" text-anchor="start" font-weight="normal" fill="#000" textLength="50.5" lengthAdjust="spacingAndGlyphs" >Time (min)</text>
</svg>
</body></html>
